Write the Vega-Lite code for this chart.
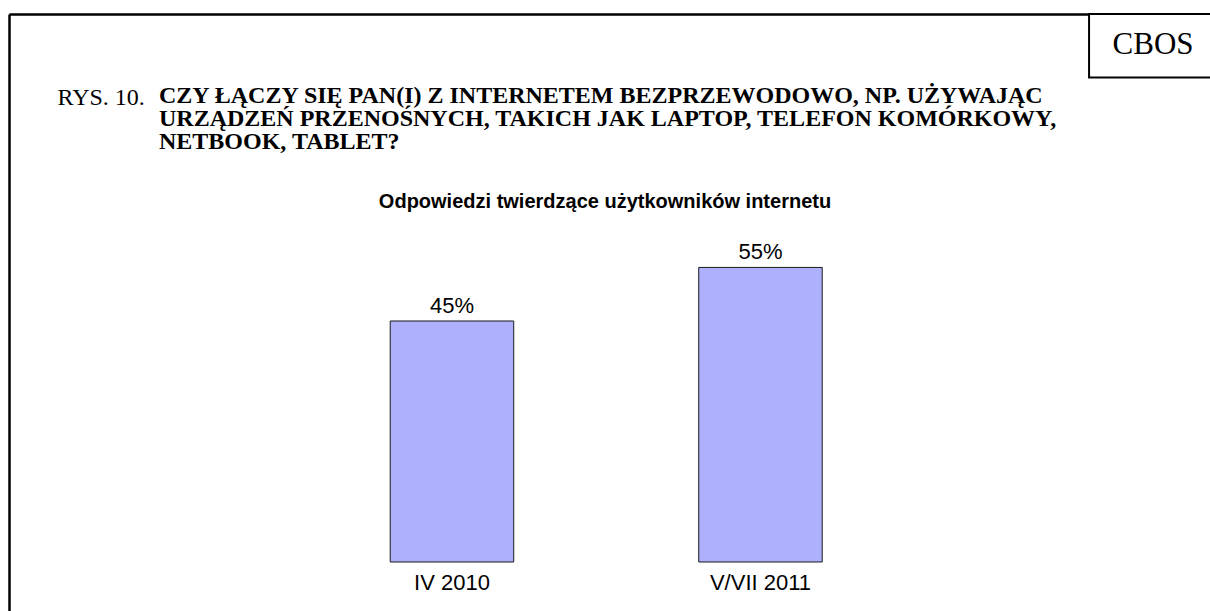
{
  "$schema": "https://vega.github.io/schema/vega-lite/v6.json",
  "width": 1201,
  "height": 597,
  "autosize": {"type": "none"},
  "padding": {"left": 9, "top": 14, "right": 0, "bottom": 0},
  "background": "white",
  "config": {"view": {"stroke": null}},
  "title": {
    "text": [
      "CZY ŁĄCZY SIĘ PAN(I) Z INTERNETEM BEZPRZEWODOWO, NP. UŻYWAJĄC",
      "URZĄDZEŃ PRZENOŚNYCH, TAKICH JAK LAPTOP, TELEFON KOMÓRKOWY,",
      "NETBOOK, TABLET?"
    ],
    "anchor": "start",
    "frame": "group",
    "orient": "top",
    "offset": -160,
    "dx": 150,
    "baseline": "alphabetic",
    "font": "Liberation Serif",
    "fontSize": 24,
    "fontWeight": "bold",
    "color": "#000000",
    "lineHeight": 23
  },
  "layer": [
    {
      "data": {
        "values": [
          {"period": "IV 2010", "share": 0.45},
          {"period": "V/VII 2011", "share": 0.55}
        ]
      },
      "encoding": {
        "y": {
          "field": "share",
          "type": "quantitative",
          "scale": {"domain": [-0.0915, 1.0232], "nice": false},
          "axis": {
            "orient": "left",
            "domain": true,
            "domainColor": "#000000",
            "domainWidth": 2.5,
            "ticks": false,
            "labels": false,
            "grid": false,
            "title": "RYS. 10.",
            "titleAngle": 0,
            "titleX": 48,
            "titleY": 90,
            "titleAlign": "left",
            "titleBaseline": "alphabetic",
            "titleFont": "Liberation Serif",
            "titleFontSize": 24,
            "titleFontWeight": "normal",
            "titleColor": "#000000"
          }
        }
      },
      "layer": [
        {
          "mark": {"type": "bar", "fill": "#aeb0fe", "stroke": "#1a1a1a", "strokeWidth": 1, "width": {"band": 0.4003}},
          "encoding": {
            "x": {
              "field": "period",
              "type": "nominal",
              "sort": null,
              "scale": {"paddingInner": 0, "paddingOuter": 0.9465, "align": 0.4944},
              "axis": {
                "orient": "bottom",
                "offset": -49,
                "domain": false,
                "ticks": false,
                "tickSize": 0,
                "grid": false,
                "labelPadding": 27,
                "labelBaseline": "alphabetic",
                "labelFont": "Liberation Sans",
                "labelFontSize": 22,
                "labelColor": "#000000",
                "labelAngle": 0,
                "title": null
              }
            }
          }
        },
        {
          "mark": {"type": "text", "dy": -8, "baseline": "alphabetic", "align": "center", "font": "Liberation Sans", "fontSize": 22, "color": "#000000"},
          "encoding": {
            "x": {
              "field": "period",
              "type": "nominal",
              "sort": null,
              "scale": {"paddingInner": 0, "paddingOuter": 0.9465, "align": 0.4944},
              "axis": {
                "orient": "top",
                "domain": true,
                "domainColor": "#000000",
                "domainWidth": 2.5,
                "ticks": false,
                "labels": false,
                "grid": false,
                "title": "Odpowiedzi twierdzące użytkowników internetu",
                "titleX": 595.5,
                "titleY": 193,
                "titleAlign": "center",
                "titleBaseline": "alphabetic",
                "titleFont": "Liberation Sans",
                "titleFontSize": 20,
                "titleFontWeight": "bold",
                "titleColor": "#000000"
              }
            },
            "text": {"field": "share", "type": "quantitative", "format": ".0%"}
          }
        }
      ],
      "resolve": {"axis": {"x": "independent"}}
    },
    {
      "data": {"values": [{"source": "CBOS"}]},
      "layer": [
        {
          "mark": {"type": "rect", "fill": "white", "stroke": "#000000", "strokeWidth": 2},
          "encoding": {
            "x": {"datum": 0.8993, "type": "quantitative", "scale": {"domain": [0, 1], "nice": false, "zero": false}, "axis": null},
            "x2": {"datum": 1.05},
            "y": {"datum": 0.9046, "type": "quantitative", "axis": null},
            "y2": {"datum": 1.0232}
          }
        },
        {
          "mark": {"type": "text", "font": "Liberation Serif", "fontSize": 31, "align": "center", "baseline": "alphabetic", "color": "#000000"},
          "encoding": {
            "x": {"datum": 0.9526, "type": "quantitative", "axis": null},
            "y": {"datum": 0.9476, "type": "quantitative", "axis": null},
            "text": {"field": "source"}
          }
        }
      ]
    }
  ],
  "resolve": {"scale": {"x": "independent"}, "axis": {"y": "independent"}}
}
